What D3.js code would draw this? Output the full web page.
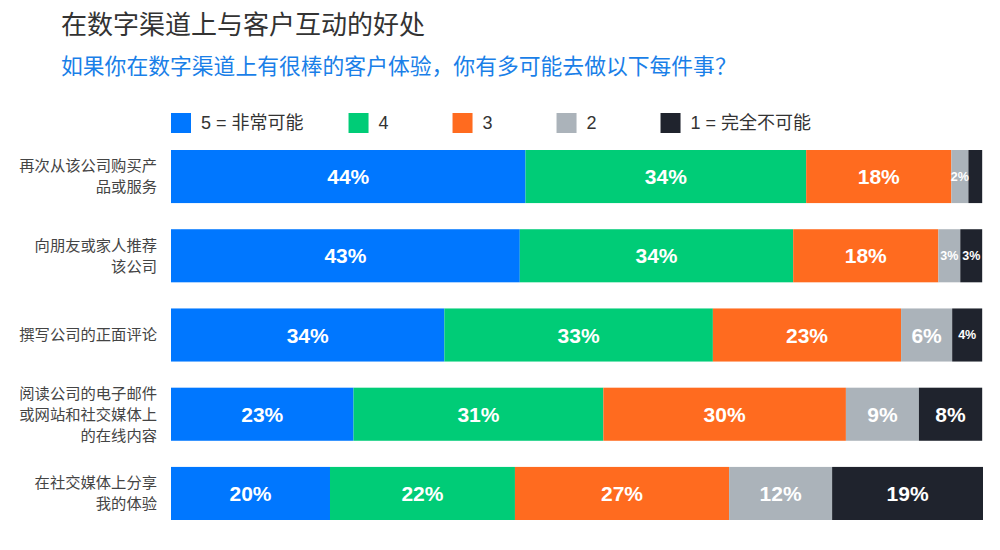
<!DOCTYPE html>
<html>
<head>
<meta charset="utf-8">
<script src="https://cdn.jsdelivr.net/npm/d3@7"></script>
<style>
  body { margin: 0; background: #fff; }
  svg { display: block; }
</style>
</head>
<body>
<svg id="chart" width="1000" height="550"></svg>
<script>
// ---- data ----
const title = "在数字渠道上与客户互动的好处";
const subtitle = "如果你在数字渠道上有很棒的客户体验，你有多可能去做以下每件事？";
const categories = [
  ["再次从该公司购买产", "品或服务"],
  ["向朋友或家人推荐", "该公司"],
  ["撰写公司的正面评论"],
  ["阅读公司的电子邮件", "或网站和社交媒体上", "的在线内容"],
  ["在社交媒体上分享", "我的体验"]
];
const seriesNames = ["5 = 非常可能", "4", "3", "2", "1 = 完全不可能"];
const s5 = [43.7, 43.0, 33.7, 22.5, 19.6];
const s4 = [34.6, 33.7, 33.1, 30.8, 22.8];
const s3 = [17.9, 17.9, 23.2, 29.9, 26.4];
const s2 = [2.1, 2.7, 6.3, 9.0, 12.7];
const s1 = [1.7, 2.7, 3.7, 7.8, 18.6];
const labels5 = ["44%", "43%", "34%", "23%", "20%"];
const labels4 = ["34%", "34%", "33%", "31%", "22%"];
const labels3 = ["18%", "18%", "23%", "30%", "27%"];
const labels2 = ["2%", "3%", "6%", "9%", "12%"];
const labels1 = ["", "3%", "4%", "8%", "19%"];
const colors = ["#0077FF", "#00CC77", "#FF6B1F", "#ABB3BA", "#1F232D"];

const seriesValues = [s5, s4, s3, s2, s1];
const seriesLabels = [labels5, labels4, labels3, labels2, labels1];

// ---- layout ----
const svg = d3.select("#chart");
const plotLeft = 171, plotRight = 983, plotTop = 150, plotBottom = 520;
const cjk = "'Noto Sans CJK SC', 'Liberation Sans', sans-serif";
const latin = "'Liberation Sans', 'Noto Sans CJK SC', sans-serif";

svg.append("text").attr("x", 61).attr("y", 34)
  .attr("font-family", cjk).attr("font-size", 26).attr("fill", "#333")
  .text(title);
svg.append("text").attr("x", 61).attr("y", 74)
  .attr("font-family", cjk).attr("font-size", 21.8).attr("fill", "#1A7FE8")
  .text(subtitle);

// stacked data
const rows = categories.map((c, i) => {
  let acc = 0;
  return seriesValues.map((vals, k) => {
    const seg = { row: i, k, x0: acc, x1: acc + vals[i], label: seriesLabels[k][i] };
    acc += vals[i];
    return seg;
  });
});
const totals = rows.map(r => r[r.length - 1].x1);

const x = d3.scaleLinear().domain([0, d3.max(totals)]).range([plotLeft, plotRight]);
const y = d3.scaleBand().domain(d3.range(categories.length)).range([plotTop, plotBottom])
  .paddingInner(0.33).paddingOuter(0);

// legend
const legend = svg.append("g").attr("transform", "translate(171,113)");
let lx = 0;
seriesNames.forEach((name, k) => {
  const g = legend.append("g").attr("transform", `translate(${lx},0)`);
  g.append("rect").attr("width", 20).attr("height", 20).attr("fill", colors[k]);
  const t = g.append("text").attr("x", 30).attr("y", 10).attr("dy", "0.36em")
    .attr("font-family", latin).attr("font-size", 18).attr("fill", "#333")
    .text(name);
  const w = t.node().getComputedTextLength();
  lx += Math.max(104, 30 + w + 45);
});

// bars
const rowG = svg.selectAll("g.row").data(rows).join("g").attr("class", "row")
  .attr("transform", (d, i) => `translate(0,${y(i)})`);

rowG.selectAll("rect").data(d => d).join("rect")
  .attr("x", d => x(d.x0))
  .attr("width", d => x(d.x1) - x(d.x0))
  .attr("y", 0)
  .attr("height", y.bandwidth())
  .attr("fill", d => colors[d.k]);

rowG.selectAll("text.val").data(d => d.filter(s => s.label && (x(s.x1) - x(s.x0)) >= 15))
  .join("text").attr("class", "val")
  .attr("x", d => (x(d.x0) + x(d.x1)) / 2)
  .attr("y", y.bandwidth() / 2)
  .attr("dy", "0.36em")
  .attr("text-anchor", "middle")
  .attr("font-family", latin)
  .attr("font-weight", "bold")
  .attr("font-size", d => (x(d.x1) - x(d.x0)) < 40 ? 12.5 : 21)
  .attr("fill", "#fff")
  .text(d => d.label);

// category labels
const lineH = 21;
categories.forEach((lines, i) => {
  const cy = y(i) + y.bandwidth() / 2;
  const t = svg.append("text")
    .attr("text-anchor", "end")
    .attr("font-family", cjk).attr("font-size", 15.3).attr("fill", "#444");
  lines.forEach((ln, j) => {
    t.append("tspan").attr("x", 157)
      .attr("y", cy + (j - (lines.length - 1) / 2) * lineH)
      .attr("dy", "0.35em")
      .text(ln);
  });
});
</script>
</body>
</html>
